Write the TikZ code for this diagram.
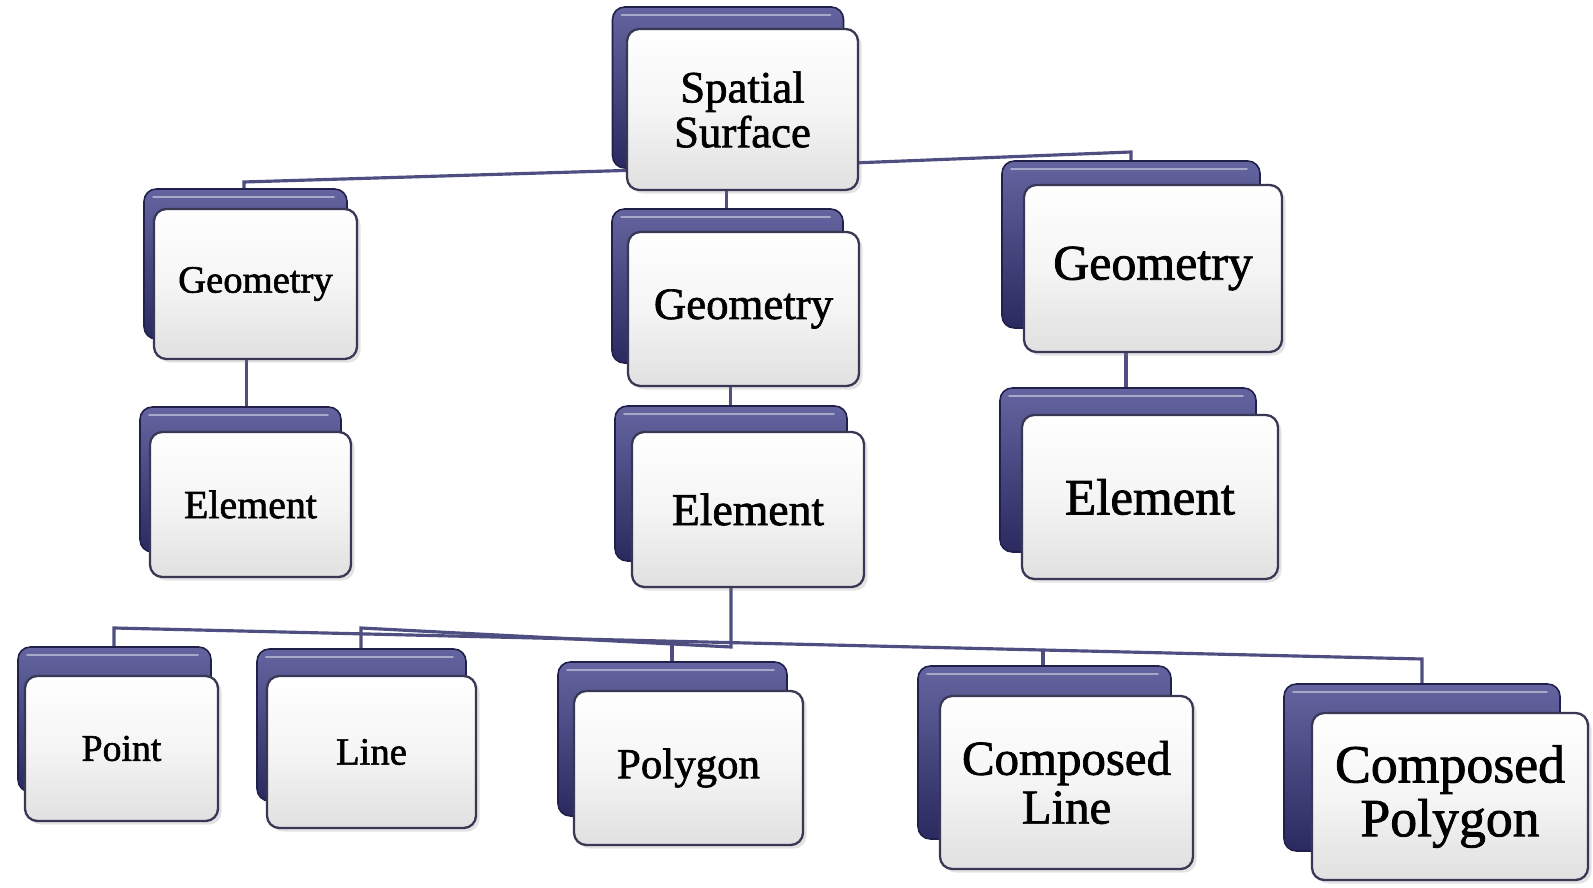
\documentclass[tikz,border=0pt]{standalone}
\usepackage{fontspec}
\setmainfont{Liberation Serif}
\newfontfamily\chartfont{Liberation Serif}[FakeBold=1.5]
\usetikzlibrary{calc,shadows}
\pgfdeclarelayer{paper}
\pgfdeclarelayer{bg}
\pgfsetlayers{paper,bg,main}
\definecolor{navyT}{RGB}{100,100,160}
\definecolor{navyB}{RGB}{42,42,96}
\definecolor{navyE}{RGB}{32,32,74}
\definecolor{conncol}{RGB}{78,78,128}
\definecolor{frontE}{RGB}{56,56,84}
\tikzset{
  backbox/.style={draw=navyE, line width=0.9pt, top color=navyT, bottom color=navyB, rounded corners=7pt},
  backhl/.style={draw=white, opacity=0.45, line width=1pt, line cap=round},
  frontbox/.style={draw=frontE, line width=1.3pt, top color=white, bottom color=black!12, middle color=black!4,
    rounded corners=7pt, inner sep=0pt, align=center, text=black,
    drop shadow={opacity=0.22, shadow xshift=2pt, shadow yshift=-2pt}},
  conn/.style={draw=conncol, line width=1.8pt},
}
% #1 name #2 cx #3 cy #4 w #5 h #6 back dx #7 back dy #8 font size #9 text
\newcommand\orgbox[9]{%
  \path[backbox] ($(#2,#3)+(#6,#7)+(-#4/2,-#5/2)$) rectangle ++(#4,#5);
  \draw[backhl] ($(#2,#3)+(#6,#7)+(-#4/2+9,-#5/2+8)$) -- ++(#4-22,0);
  \node[frontbox, minimum width=#4*0.02cm, minimum height=#5*0.02cm,
        font=\chartfont\fontsize{#8}{#8}\selectfont] (#1) at (#2,#3) {#9};
}
\begin{document}
\begin{tikzpicture}[x=0.02cm,y=-0.02cm]
\useasboundingbox (0,0) rectangle (1593,888);
\begin{pgfonlayer}{paper}
\fill[white] (0,0) rectangle (1593,888);
\end{pgfonlayer}

\orgbox{ss}{742.5}{109.5}{231}{161}{-14.5}{-22}{25.5}{Spatial\\Surface}
\orgbox{gL}{255.5}{284}{203}{150}{-10}{-20}{22}{Geometry}
\orgbox{gM}{743.5}{309}{231}{154}{-16}{-23}{25.5}{Geometry}
\orgbox{gR}{1153}{268.5}{258}{167}{-22}{-24}{28.4}{Geometry}
\orgbox{eL}{250.5}{504.5}{201}{145}{-10}{-25}{22.7}{Element}
\orgbox{eM}{748}{509.5}{232}{155}{-17}{-26}{26}{Element}
\orgbox{eR}{1150}{497}{256}{164}{-22}{-27}{29}{Element}
\orgbox{point}{121.5}{748.5}{193}{145}{-7}{-29}{21.5}{Point}
\orgbox{line}{371.5}{752}{209}{152}{-10}{-27}{22}{Line}
\orgbox{poly}{688.5}{768}{229}{154}{-16}{-29}{24.4}{Polygon}
\orgbox{cline}{1066.5}{782.5}{253}{173}{-22}{-30}{27.8}{Composed\\Line}
\orgbox{cpoly}{1450}{796.5}{276}{167}{-28}{-29}{30.6}{Composed\\Polygon}

\begin{pgfonlayer}{bg}
  % top level
  \coordinate (kL) at (244,182);
  \coordinate (kR) at (1131,152);
  \draw[conn] ($(ss.south west)+(10,-21)$) -- (kL) -- (kL |- gL.north);
  \draw[conn] ($(ss.south east)+(-10,-28)$) -- (kR) -- (kR |- gR.north);
  \coordinate (v0) at ($(ss.south)+(-16,-5)$);
  \draw[conn] (v0) -- (v0 |- gM.north);
  % geometry -> element
  \coordinate (v1) at ($(gL.south)+(-9,-5)$);
  \draw[conn] (v1) -- (v1 |- eL.north);
  \coordinate (v2) at ($(gM.south)+(-13,-5)$);
  \draw[conn] (v2) -- (v2 |- eM.north);
  \coordinate (v3) at ($(gR.south)+(-27,-5)$);
  \draw[conn] (v3) -- (v3 |- eR.north);
  % element -> children
  \coordinate (v4) at ($(eM.south)+(-17,-5)$);
  \coordinate (tb) at (731,647);
  \coordinate (kLn) at (361,628);
  \draw[conn] (v4) -- (tb) -- (kLn) -- (kLn |- line.north);
  \coordinate (kP) at (114,628);
  \coordinate (kCP) at (1422,659);
  \draw[conn] (point.north -| kP) -- (kP) -- (kCP) -- (kCP |- cpoly.north);
  \coordinate (kPg) at ($(kP)!{(672-114)/1308}!(kCP)$);
  \draw[conn] (kPg) -- (kPg |- poly.north);
  \coordinate (kCL) at ($(kP)!{(1043-114)/1308}!(kCP)$);
  \draw[conn] (kCL) -- (kCL |- cline.north);
\end{pgfonlayer}
\end{tikzpicture}
\end{document}
